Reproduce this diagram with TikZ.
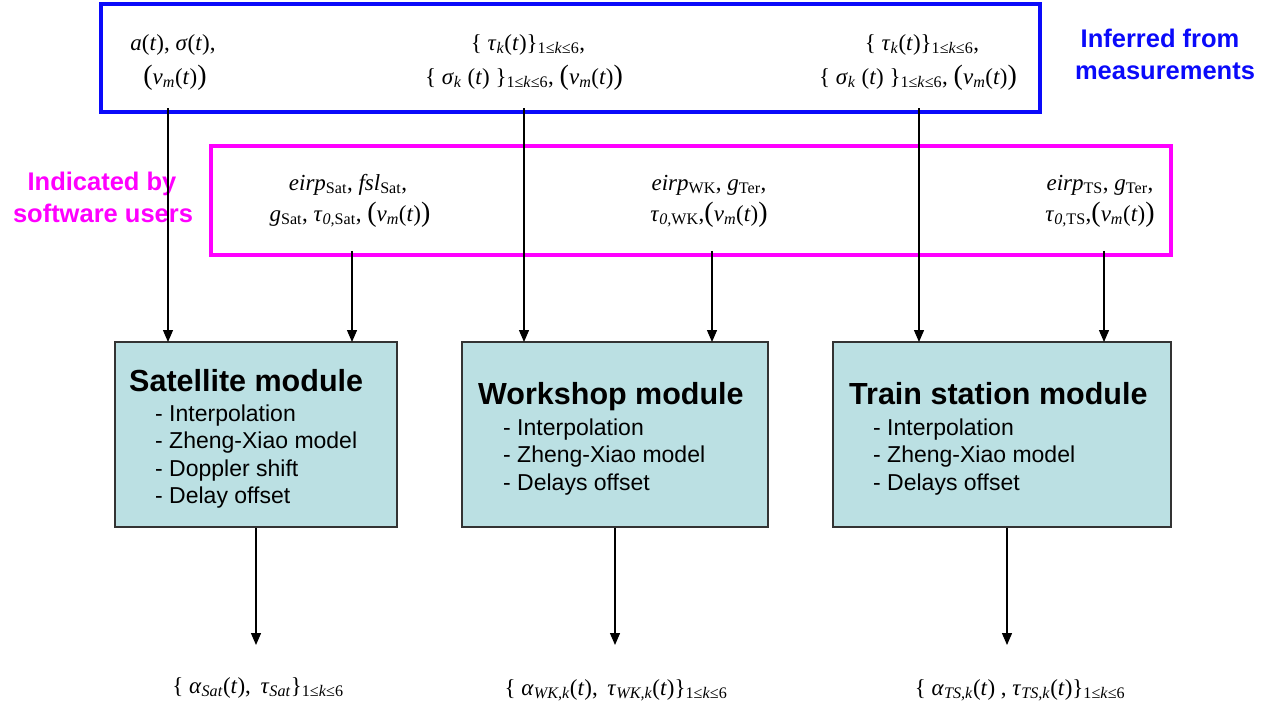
\documentclass[tikz,border=0pt]{standalone}
\usepackage{fontspec}
\setmainfont{Liberation Serif}
\newfontfamily\sansf{Liberation Sans}
\usetikzlibrary{arrows.meta}

% italic symbol, subscript and enlarged parenthesis
\newcommand\mi[1]{\textit{#1}}
\newcommand\sbs[1]{\textsubscript{#1}}
\newcommand\bp[1]{{\fontsize{28}{28}\selectfont #1}}
\newcommand\vmt{\bp{(}\mi{v}\sbs{\mi{m}}(\mi{t})\bp{)}}
\newcommand\rng{\sbs{1≤\mi{k}≤6}}

\definecolor{modfill}{RGB}{187,224,227}
\definecolor{measblue}{RGB}{10,10,250}
\definecolor{usermag}{RGB}{255,0,255}

\begin{document}
\begin{tikzpicture}[x=1pt,y=-1pt,
  measbox/.style={draw=measblue,line width=4pt,inner sep=0pt},
  userbox/.style={draw=usermag,line width=3.5pt,inner sep=0pt},
  modbox/.style={draw=black!80,line width=1.6pt,fill=modfill,inner sep=0pt},
  mtxt/.style={font=\fontsize{23}{27}\selectfont,anchor=base,inner sep=0pt},
  modtitle/.style={font=\sansf\bfseries\fontsize{30.5}{34}\selectfont,anchor=base west,inner sep=0pt},
  moditem/.style={font=\sansf\fontsize{23}{27.5}\selectfont,anchor=base west,inner sep=0pt},
  sidelabel/.style={font=\sansf\bfseries\fontsize{25.5}{31.5}\selectfont,anchor=base,inner sep=0pt},
  arr/.style={-{Triangle[length=12pt,width=10pt]},line width=1.3pt}]
\useasboundingbox (0,0) rectangle (1266,704);

% input frames
\node[measbox,minimum width=939pt,minimum height=108pt] (meas) at (570.5,58) {};
\node[userbox,minimum width=960pt,minimum height=109pt] (user) at (691,200.5) {};

% modules
\node[modbox,minimum width=282pt,minimum height=185pt] (sat) at (256,434.5) {};
\node[modbox,minimum width=306pt,minimum height=185pt] (wk) at (615,434.5) {};
\node[modbox,minimum width=338pt,minimum height=185pt] (ts) at (1002,434.5) {};

\node[modtitle] (satT) at (129,391) {Satellite module};
\node[moditem]  (satI) at (155,421) {- Interpolation};
\node[moditem]  (satZ) at (155,448.5) {- Zheng-Xiao model};
\node[moditem]  (satD) at (155,476) {- Doppler shift};
\node[moditem]  (satO) at (155,503.5) {- Delay offset};

\node[modtitle] (wkT) at (478,404) {Workshop module};
\node[moditem]  (wkI) at (503,435) {- Interpolation};
\node[moditem]  (wkZ) at (503,462.5) {- Zheng-Xiao model};
\node[moditem]  (wkO) at (503,490) {- Delays offset};

\node[modtitle] (tsT) at (849,404) {Train station module};
\node[moditem]  (tsI) at (873,435) {- Interpolation};
\node[moditem]  (tsZ) at (873,462.5) {- Zheng-Xiao model};
\node[moditem]  (tsO) at (873,490) {- Delays offset};

% side labels
\node[sidelabel,text=measblue] (measL1) at (1160,47) {Inferred from};
\node[sidelabel,text=measblue] (measL2) at (1165,79) {measurements};
\node[sidelabel,text=usermag] (userL1) at (102,190) {Indicated by};
\node[sidelabel,text=usermag] (userL2) at (103,222) {software users};

% measured quantities
\node[mtxt] (m1a) at (173,50) {\mi{a}(\mi{t}), \mi{σ}(\mi{t}),};
\node[mtxt] (m1b) at (175,84) {\vmt};
\node[mtxt] (m2a) at (528,50) {\{ \mi{τ}\sbs{\mi{k}}(\mi{t})\}\rng,};
\node[mtxt] (m2b) at (524,84) {\{ \mi{σ}\sbs{\mi{k}} (\mi{t}) \}\rng, \vmt};
\node[mtxt] (m3a) at (922,50) {\{ \mi{τ}\sbs{\mi{k}}(\mi{t})\}\rng,};
\node[mtxt] (m3b) at (918,84) {\{ \mi{σ}\sbs{\mi{k}} (\mi{t}) \}\rng, \vmt};

% user parameters
\node[mtxt] (u1a) at (348,190) {\mi{eirp}\sbs{Sat}, \mi{fsl}\sbs{Sat},};
\node[mtxt] (u1b) at (350,221) {\mi{g}\sbs{Sat}, \mi{τ}\sbs{\mi{0,}Sat}, \vmt};
\node[mtxt] (u2a) at (709,190) {\mi{eirp}\sbs{WK}, \mi{g}\sbs{Ter},};
\node[mtxt] (u2b) at (709,221) {\mi{τ}\sbs{\mi{0,}WK},\vmt};
\node[mtxt] (u3a) at (1100,190) {\mi{eirp}\sbs{TS}, \mi{g}\sbs{Ter},};
\node[mtxt] (u3b) at (1100,221) {\mi{τ}\sbs{\mi{0,}TS},\vmt};

% outputs
\node[mtxt] (oS) at (258,693) {\{ \mi{α}\sbs{\mi{Sat}}(\mi{t}),\, \mi{τ}\sbs{\mi{Sat}}\}\rng};
\node[mtxt] (oW) at (616,695) {\{ \mi{α}\sbs{\mi{WK,k}}(\mi{t}),\, \mi{τ}\sbs{\mi{WK,k}}(\mi{t})\}\rng};
\node[mtxt] (oT) at (1020,695) {\{ \mi{α}\sbs{\mi{TS,k}}(\mi{t}) , \mi{τ}\sbs{\mi{TS,k}}(\mi{t})\}\rng};

% connector end points
\coordinate (satA) at (168,342);
\coordinate (satB) at (352,342);
\coordinate (wkA) at (524,342);
\coordinate (wkB) at (712,342);
\coordinate (tsA) at (919,342);
\coordinate (tsB) at (1104,342);
\coordinate (satOut) at (256,645);
\coordinate (wkOut) at (615,645);
\coordinate (tsOut) at (1007,645);
\coordinate (tsFoot) at (1007,527);

% inputs into the modules
\draw[arr] ([yshift=6pt]meas.south -| satA) -- (satA);
\draw[arr] ([yshift=6pt]meas.south -| wkA) -- (wkA);
\draw[arr] ([yshift=6pt]meas.south -| tsA) -- (tsA);
\draw[arr] ([yshift=6pt]user.south -| satB) -- (satB);
\draw[arr] ([yshift=6pt]user.south -| wkB) -- (wkB);
\draw[arr] ([yshift=6pt]user.south -| tsB) -- (tsB);

% module outputs
\draw[arr] (sat.south) -- (satOut);
\draw[arr] (wk.south) -- (wkOut);
\draw[arr] (ts.south -| tsFoot) -- (tsOut);
\end{tikzpicture}
\end{document}
